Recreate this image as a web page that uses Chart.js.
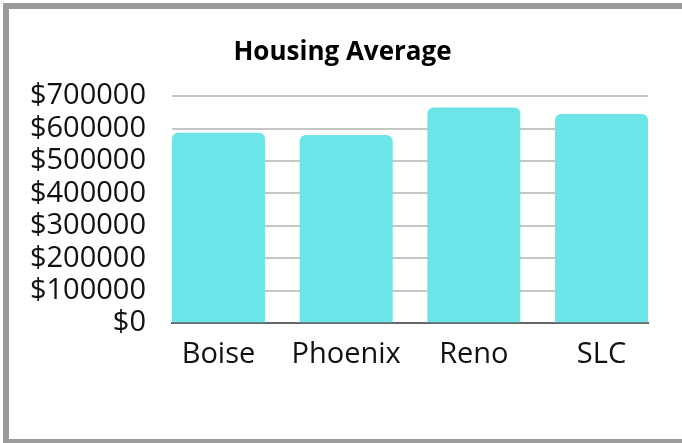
<!DOCTYPE html>
<html lang="en">
  <head>
    <meta charset="UTF-8" />
    <title>Housing Average</title>
    <script src="https://cdn.jsdelivr.net/npm/chart.js"></script>
    <style>
      body {
        margin: 0;
        padding: 0;
        background: #fff;
        overflow: hidden;
      }

      .frame {
        position: absolute;
        left: 3px;
        top: 3px;
        width: 700px;
        height: 430px;
        border-top: 6px solid #9b9b9b;
        border-left: 6px solid #9b9b9b;
        border-bottom: 6px solid #9b9b9b;
        background: #fff;
      }

      .chart-box {
        position: absolute;
        left: 0;
        top: 0;
        width: 667px;
        height: 377px;
      }
    </style>
  </head>
  <body>
    <div class="frame">
      <div class="chart-box">
        <canvas id="housingChart"></canvas>
      </div>
    </div>

    <script>
      const cities = ["Boise", "Phoenix", "Reno", "SLC"];
      const averagePrices = [587000, 580000, 665000, 645000];
      const yTicks = [0, 100000, 200000, 300000, 400000, 500000, 600000, 700000];

      // half a bar (in category units) of room on each side of the plot
      const edge = 0.364;

      const points = cities.map((name, i) => ({ x: i, y: averagePrices[i] }));

      const ctx = document.getElementById("housingChart").getContext("2d");
      new Chart(ctx, {
        type: "bar",
        data: {
          datasets: [
            {
              label: "Housing Average",
              data: points,
              backgroundColor: "#6be5e8",
              borderRadius: 6,
              borderSkipped: "start",
              categoryPercentage: 1,
              barPercentage: 0.728,
            },
          ],
        },
        options: {
          responsive: true,
          maintainAspectRatio: false,
          animation: false,
          layout: { padding: { left: 19, right: 19, top: 0, bottom: 0 } },
          plugins: {
            legend: { display: false },
            tooltip: { enabled: false },
            title: {
              display: true,
              text: "Housing Average",
              color: "#000",
              font: { family: "Open Sans", size: 26, weight: "bold" },
              padding: { top: 28, bottom: 28 },
            },
          },
          scales: {
            x: {
              type: "linear",
              offset: false,
              bounds: "data",
              min: -edge,
              max: cities.length - 1 + edge,
              afterBuildTicks: (axis) => {
                axis.ticks = cities.map((c, i) => ({ value: i }));
              },
              grid: { display: false, drawTicks: false, offset: false },
              border: { display: true, color: "#666", width: 2 },
              ticks: {
                autoSkip: false,
                maxRotation: 0,
                minRotation: 0,
                padding: 14,
                color: "#111",
                font: { family: "Open Sans", size: 29 },
                callback: (value) => cities[value] ?? "",
              },
            },
            y: {
              min: 0,
              max: yTicks[yTicks.length - 1],
              afterBuildTicks: (axis) => {
                axis.ticks = yTicks.map((v) => ({ value: v }));
              },
              afterFit: (axis) => {
                axis.width = 144;
              },
              grid: { color: "#c6c6c6", lineWidth: 2, drawTicks: false },
              border: { display: false },
              ticks: {
                autoSkip: false,
                padding: 26,
                color: "#111",
                font: { family: "Open Sans", size: 29 },
                callback: (value) => "$" + value,
              },
            },
            // empty strip on the right so the title sits centred on the card
            spacer: {
              type: "linear",
              position: "right",
              grid: { display: false, drawTicks: false },
              border: { display: false },
              ticks: { display: false },
              afterFit: (axis) => {
                axis.width = 9;
              },
            },
          },
        },
      });
    </script>
  </body>
</html>
